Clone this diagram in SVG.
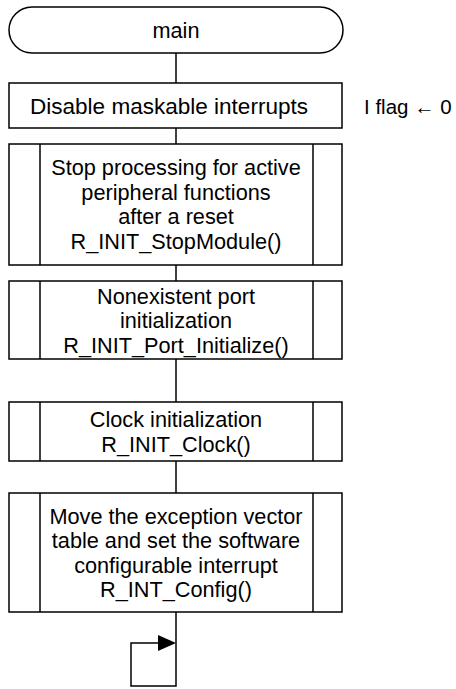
<svg xmlns="http://www.w3.org/2000/svg" width="456" height="689" viewBox="0 0 456 689">
<style>
.s{fill:#fff;stroke:#000;stroke-width:1.5}
.l{fill:none;stroke:#000;stroke-width:1.5}
text{font-family:"Liberation Sans",Arial,sans-serif;font-size:21.7px;fill:#000}
.c{text-anchor:middle}
</style>
<rect width="456" height="689" fill="#fff"/>
<g id="connectors">
<line class="l" x1="176" y1="53" x2="176" y2="83"/>
<line class="l" x1="176" y1="128" x2="176" y2="144"/>
<line class="l" x1="176" y1="265" x2="176" y2="281"/>
<line class="l" x1="176" y1="359" x2="176" y2="402"/>
<line class="l" x1="176" y1="461" x2="176" y2="493"/>
<polyline class="l" points="176,612 176,686 131,686 131,643 160,643"/>
<polygon points="176,643 158,635 158,651" fill="#000"/>
</g>
<g id="main">
<rect class="s" x="9" y="7" width="334" height="46" rx="23" ry="23"/>
<text class="c" x="176" y="38">main</text>
</g>
<g id="disable">
<rect class="s" x="9" y="83" width="333" height="45"/>
<text class="c" x="169" y="113.5" textLength="278" lengthAdjust="spacingAndGlyphs">Disable maskable interrupts</text>
</g>
<g id="iflag">
<text x="364" y="113.5" style="font-size:20.5px">I flag ← 0</text>
</g>
<g id="stop">
<rect class="s" x="9" y="144" width="333" height="121"/>
<line class="l" x1="40" y1="144" x2="40" y2="265"/>
<line class="l" x1="313" y1="144" x2="313" y2="265"/>
<text class="c" x="176" y="175">Stop processing for active</text>
<text class="c" x="176" y="199.5">peripheral functions</text>
<text class="c" x="176" y="224">after a reset</text>
<text class="c" x="176" y="248.5">R_INIT_StopModule()</text>
</g>
<g id="port">
<rect class="s" x="9" y="281" width="333" height="78"/>
<line class="l" x1="40" y1="281" x2="40" y2="359"/>
<line class="l" x1="313" y1="281" x2="313" y2="359"/>
<text class="c" x="176" y="303.5">Nonexistent port</text>
<text class="c" x="176" y="328">initialization</text>
<text class="c" x="176" y="352.5">R_INIT_Port_Initialize()</text>
</g>
<g id="clock">
<rect class="s" x="9" y="402" width="333" height="59"/>
<line class="l" x1="40" y1="402" x2="40" y2="461"/>
<line class="l" x1="313" y1="402" x2="313" y2="461"/>
<text class="c" x="176" y="427">Clock initialization</text>
<text class="c" x="176" y="451.5">R_INIT_Clock()</text>
</g>
<g id="config">
<rect class="s" x="9" y="493" width="333" height="119"/>
<line class="l" x1="40" y1="493" x2="40" y2="612"/>
<line class="l" x1="313" y1="493" x2="313" y2="612"/>
<text class="c" x="176" y="523.75">Move the exception vector</text>
<text class="c" x="176" y="548.25">table and set the software</text>
<text class="c" x="176" y="572.75">configurable interrupt</text>
<text class="c" x="176" y="597.25">R_INT_Config()</text>
</g>
</svg>
